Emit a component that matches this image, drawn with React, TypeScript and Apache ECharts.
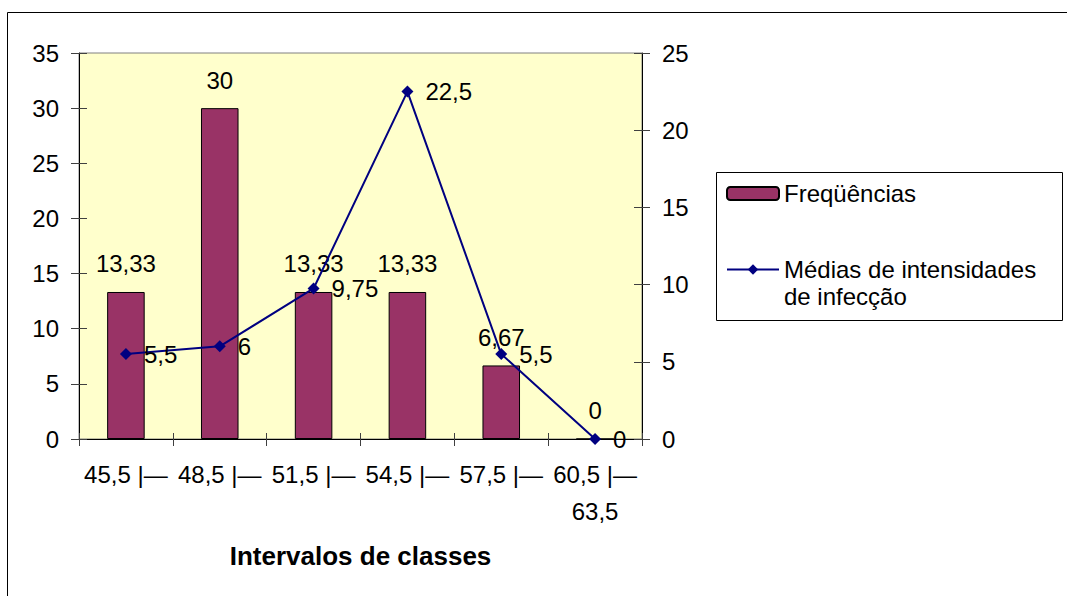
import React, { useEffect, useRef } from "react";
import * as echarts from "echarts";

const categories = ["45,5 |—", "48,5 |—", "51,5 |—", "54,5 |—", "57,5 |—", "60,5 |—\n63,5"];
const frequencias = [13.33, 30, 13.33, 13.33, 6.67, 0];
const medias = [5.5, 6, 9.75, 22.5, 5.5, 0];
const leftTicks = { min: 0, max: 35, interval: 5 };
const rightTicks = { min: 0, max: 25, interval: 5 };
const nameFreq = "Freqüências";
const nameMedias = "Médias de intensidades\nde infecção";
const xTitle = "Intervalos de classes";

const FONT = "'Liberation Sans', Arial, sans-serif";
const fmt = (v: number) => String(v).replace(".", ",");

export default function App() {
  const ref = useRef<HTMLDivElement>(null);
  useEffect(() => {
    if (!ref.current) return;
    const chart = echarts.init(ref.current, null, { renderer: "svg" });
    const tickStyle = { color: "#404040", width: 1 };
    const yLabel = { fontSize: 24, color: "#000", fontFamily: FONT, margin: 20 };
    chart.setOption({
      animation: false,
      backgroundColor: "#fff",
      textStyle: { fontFamily: FONT },
      graphic: [
        {
          type: "rect",
          shape: { x: 7.5, y: 12.5, width: 1080, height: 600 },
          style: { fill: "none", stroke: "#000", lineWidth: 1 },
          z: -10,
        },
        {
          type: "rect",
          shape: { x: 716.5, y: 172.5, width: 346, height: 148 },
          style: { fill: "#fff", stroke: "#000", lineWidth: 1 },
          z: -5,
        },
      ],
      grid: {
        left: 79,
        top: 53,
        width: 563,
        height: 386,
        show: true,
        backgroundColor: "#FFFFCC",
        borderColor: "#808080",
        borderWidth: 1,
      },
      legend: {
        orient: "vertical",
        left: 726,
        top: 180,
        padding: 0,
        itemWidth: 52,
        itemHeight: 13,
        itemGap: 22,
        selectedMode: false,
        formatter: (name: string) => (name === nameMedias ? "\n" + name : name),
        textStyle: { fontSize: 24, color: "#000", fontFamily: FONT, lineHeight: 27 },
        data: [{ name: nameFreq }, { name: nameMedias }],
      },
      xAxis: [
        {
          type: "category",
          data: categories,
          boundaryGap: true,
          axisLine: { lineStyle: { color: "#000", width: 1 } },
          axisTick: { show: true, length: 7, lineStyle: tickStyle },
          axisLabel: {
            interval: 0,
            fontSize: 24,
            color: "#000",
            fontFamily: FONT,
            margin: 17,
            lineHeight: 37,
          },
          name: xTitle,
          nameLocation: "middle",
          nameGap: 104,
          nameTextStyle: { fontSize: 26, fontWeight: "bold", color: "#000", fontFamily: FONT },
        },
        {
          type: "category",
          data: categories,
          position: "bottom",
          boundaryGap: true,
          axisLine: { show: false },
          axisTick: { show: true, inside: true, length: 6, lineStyle: tickStyle },
          axisLabel: { show: false },
        },
      ],
      yAxis: [
        {
          type: "value",
          position: "left",
          ...leftTicks,
          splitLine: { show: false },
          axisLine: { show: true, lineStyle: { color: "#000", width: 1 } },
          axisTick: { show: true, length: 8, lineStyle: tickStyle },
          axisLabel: yLabel,
        },
        {
          type: "value",
          position: "right",
          ...rightTicks,
          splitLine: { show: false },
          axisLine: { show: true, lineStyle: { color: "#000", width: 1 } },
          axisTick: { show: true, length: 8, lineStyle: tickStyle },
          axisLabel: yLabel,
        },
        {
          type: "value",
          position: "left",
          ...leftTicks,
          splitLine: { show: false },
          axisLine: { show: false },
          axisTick: { show: true, inside: true, length: 8, lineStyle: tickStyle },
          axisLabel: { show: false },
        },
        {
          type: "value",
          position: "right",
          ...rightTicks,
          splitLine: { show: false },
          axisLine: { show: false },
          axisTick: { show: true, inside: true, length: 8, lineStyle: tickStyle },
          axisLabel: { show: false },
        },
      ],
      series: [
        {
          name: nameFreq,
          type: "bar",
          yAxisIndex: 0,
          data: frequencias,
          barWidth: "40%",
          itemStyle: { color: "#993366", borderColor: "#000", borderWidth: 1 },
          label: {
            show: true,
            position: "top",
            distance: 16,
            fontSize: 24,
            color: "#000",
            fontFamily: FONT,
            formatter: (p: any) => fmt(p.value),
          },
          z: 2,
        },
        {
          name: nameMedias,
          type: "line",
          yAxisIndex: 1,
          data: medias,
          symbol: "diamond",
          symbolSize: 12,
          lineStyle: { color: "#000080", width: 2 },
          itemStyle: { color: "#000080" },
          label: {
            show: true,
            position: "right",
            distance: 12,
            fontSize: 24,
            color: "#000",
            fontFamily: FONT,
            formatter: (p: any) => fmt(p.value),
          },
          z: 3,
        },
      ],
    });
    return () => chart.dispose();
  }, []);
  return (
    <div
      ref={ref}
      style={{ position: "fixed", left: 0, top: 0, width: 1067, height: 596 }}
    />
  );
}
